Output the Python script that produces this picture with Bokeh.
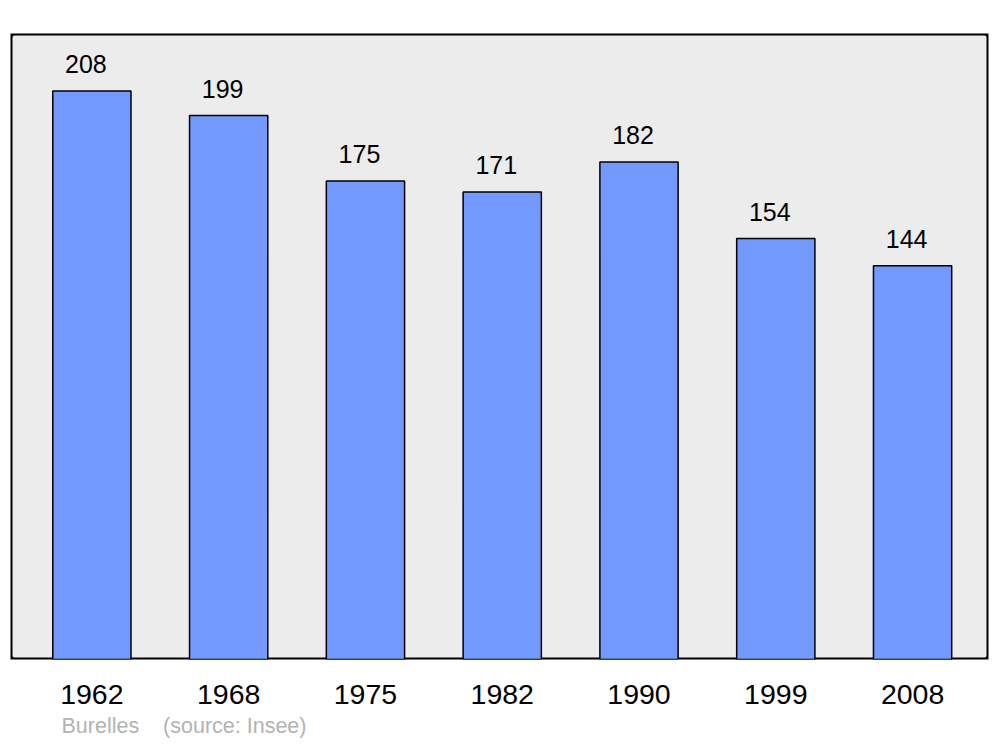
from bokeh.plotting import figure
from bokeh.models import ColumnDataSource, FixedTicker, BoxAnnotation, Title, Range1d
from bokeh.core.properties import value
from bokeh.embed import file_html
from bokeh.resources import INLINE

years = ["1962", "1968", "1975", "1982", "1990", "1999", "2008"]
population = [208, 199, 175, 171, 182, 154, 144]

xs = list(range(len(years)))
src = ColumnDataSource(dict(x=xs, top=population, label=[str(v) for v in population]))

p = figure(width=997, height=746, output_backend="svg", toolbar_location=None,
           x_range=Range1d(-0.595, 6.555), y_range=Range1d(0, 229),
           min_border_left=10, min_border_right=9, min_border_top=33, min_border_bottom=87)
p.background_fill_color = None
p.border_fill_color = "white"
p.outline_line_color = None
p.xgrid.visible = False
p.ygrid.visible = False
p.yaxis.visible = False

frame_box = BoxAnnotation(fill_color="#ececec", fill_alpha=1, line_color="black", line_alpha=1,
                          line_width=4, border_radius=4, level="underlay")
p.add_layout(frame_box)

p.vbar(x="x", top="top", bottom=0, width=0.572, source=src, fill_color="#7399ff",
       line_color="black", line_width=1.5)

p.text(x="x", y="top", text="label", source=src, x_offset=-6, y_offset=-27,
       text_align="center", text_baseline="alphabetic", text_font=value("Liberation Sans"),
       text_font_size="25px", text_color="black")

ax = p.xaxis[0]
ax.ticker = FixedTicker(ticks=xs)
ax.major_label_overrides = {i: y for i, y in zip(xs, years)}
ax.axis_line_color = None
ax.major_tick_line_color = None
ax.minor_tick_line_color = None
ax.major_label_text_font = "Liberation Sans"
ax.major_label_text_font_size = "28.5px"
ax.major_label_text_color = "black"
ax.major_label_standoff = 19

footer = Title(text="Burelles\u00a0\u00a0\u00a0\u00a0(source: Insee)", align="left", offset=51,
               text_font="Liberation Sans", text_font_size="21.5px", text_color="#b3b3b3",
               text_font_style="normal", standoff=10)
p.add_layout(footer, "below")

open("out.html", "w").write(file_html(p, INLINE))
